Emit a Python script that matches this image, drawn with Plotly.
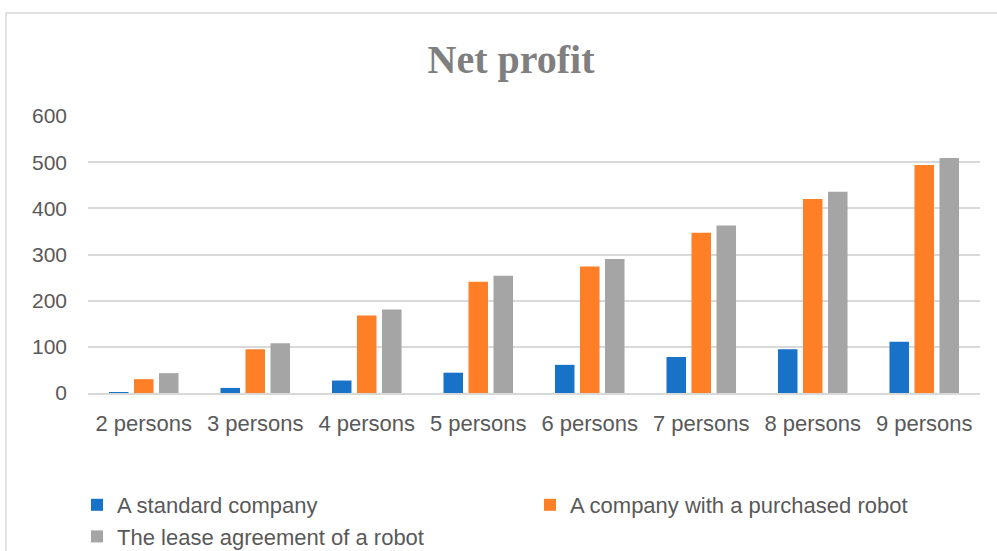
import plotly.graph_objects as go

categories = ["2 persons", "3 persons", "4 persons", "5 persons",
              "6 persons", "7 persons", "8 persons", "9 persons"]
standard = [2, 11, 27, 44, 61, 78, 95, 111]
purchased = [30, 95, 168, 241, 274, 347, 420, 494]
lease = [43, 108, 181, 254, 290, 363, 436, 509]
y_ticks = [0, 100, 200, 300, 400, 500, 600]

series = [
    ("A standard company", standard, "#1872c8"),
    ("A company with a purchased robot", purchased, "#ff7f27"),
    ("The lease agreement of a robot", lease, "#a5a5a5"),
]

fig = go.Figure()
for name, vals, color in series:
    fig.add_trace(go.Bar(x=categories, y=vals, name=name,
                         marker=dict(color=color, line=dict(width=0))))

W, H = 997, 551
L, R, T, B = 88, 17, 116, 158
pw = W - L - R
ph = H - T - B

fig.update_layout(
    width=W, height=H,
    margin=dict(l=L, r=R, t=T, b=B, autoexpand=False),
    paper_bgcolor="white", plot_bgcolor="white",
    barmode="group", bargap=0.327, bargroupgap=0.22,
    title=dict(text="<b>Net profit</b>", xref="container", yref="container",
               x=511 / W, y=1 - 59 / H, xanchor="center", yanchor="middle",
               font=dict(family="Liberation Serif", size=40, color="#7f7f7f")),
    font=dict(family="Liberation Sans", size=21, color="#595959"),
    legend=dict(orientation="h", xref="paper", yref="paper",
                x=(77 - L) / pw, y=(H - B - 484) / ph, xanchor="left", yanchor="top",
                entrywidth=408, entrywidthmode="pixels",
                font=dict(family="Liberation Sans", size=22, color="#595959"),
                bgcolor="rgba(0,0,0,0)", traceorder="normal"),
    xaxis=dict(showgrid=False, showline=True, linecolor="#d9d9d9", linewidth=2,
               ticks="", ticklabelstandoff=10, tickfont=dict(size=22, color="#595959")),
    yaxis=dict(range=[0, 600], tickvals=y_ticks, showgrid=True, gridcolor="#d9d9d9",
               gridwidth=1.5, zeroline=False, showline=False, ticks="",
               ticklabelstandoff=20, tickfont=dict(size=21, color="#595959")),
    shapes=[dict(type="rect", xref="paper", yref="paper",
                 x0=(6 - L) / pw, x1=(1010 - L) / pw,
                 y0=(H - B - 570) / ph, y1=(H - B - 13) / ph,
                 line=dict(color="#d9d9d9", width=1.5), layer="below")],
)

fig.write_html("out.html", config={"displayModeBar": False},
               post_script="document.body.style.margin='0';document.body.style.overflow='hidden';")
